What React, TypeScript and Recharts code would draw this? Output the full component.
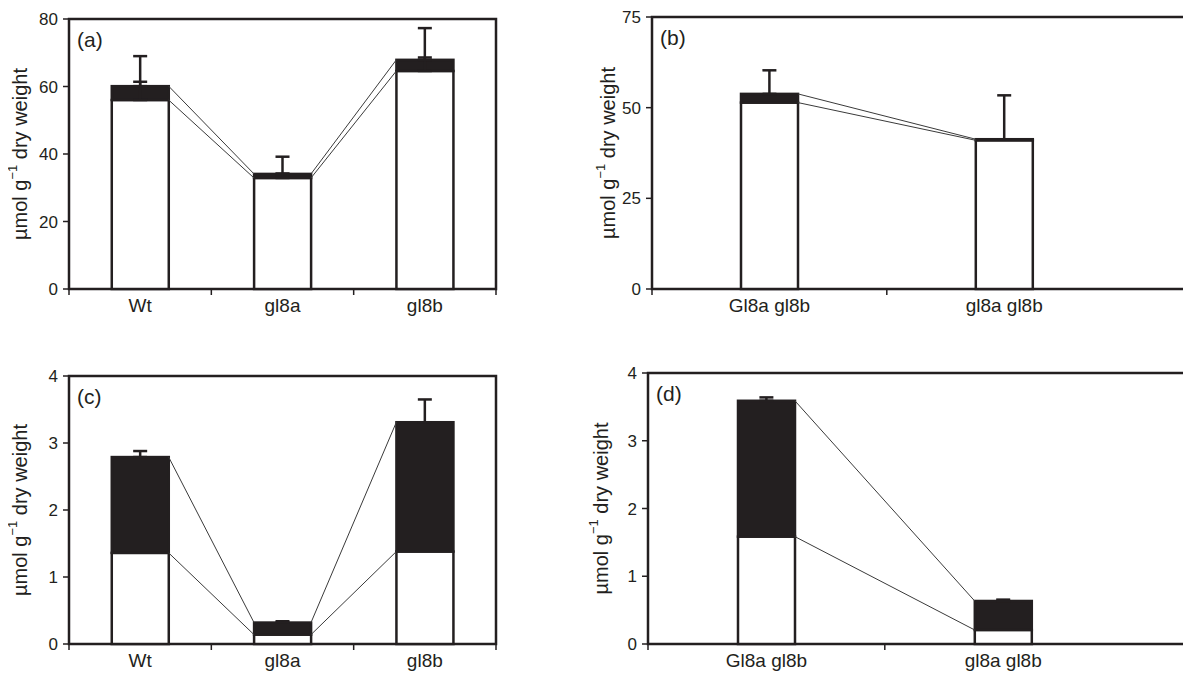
import React from 'react';
import { ComposedChart, Bar, Line, XAxis, YAxis, ErrorBar, ReferenceArea } from 'recharts';

const INK = '#231f20';
const FONT = '"Liberation Sans", Arial, Helvetica, sans-serif';

// ---------- data ----------
// Panel (a)
const catsA = ['Wt', 'gl8a', 'gl8b'];
const whiteA = [56, 32.9, 64.6];
const totalA = [60.1, 34.1, 67.9];
const errTopA = [69, 39.2, 77.3];
const whiteErrTopA = [61.4, 34.2, 68.6];
const yTicksA = [0, 20, 40, 60, 80];

// Panel (b)
const catsB = ['Gl8a gl8b', 'gl8a gl8b'];
const whiteB = [51.4, 41.0];
const totalB = [53.8, 41.3];
const errTopB = [60.3, 53.4];
const yTicksB = [0, 25, 50, 75];

// Panel (c)
const catsC = ['Wt', 'gl8a', 'gl8b'];
const whiteC = [1.36, 0.14, 1.38];
const totalC = [2.79, 0.32, 3.31];
const errTopC = [2.88, 0.34, 3.65];
const yTicksC = [0, 1, 2, 3, 4];

// Panel (d)
const catsD = ['Gl8a gl8b', 'gl8a gl8b'];
const whiteD = [1.585, 0.207];
const totalD = [3.59, 0.635];
const errTopD = [3.64, 0.655];
const yTicksD = [0, 1, 2, 3, 4];

const BAR_PX = 57;

type Layout = {
  left: number; top: number; width: number; height: number;
  margin: { top: number; right: number; bottom: number; left: number };
  yAxisWidth: number; xMax: number; bounds: number;
};

const YLabel = (props: any) => {
  const vb = props.viewBox || {};
  const cx = vb.x + 5;
  const cy = vb.y + vb.height / 2;
  return (
    <text x={cx} y={cy} transform={`rotate(-90 ${cx} ${cy})`} textAnchor="middle"
      dominantBaseline="central" fontSize={20} fill={INK} fontFamily={FONT}>
      µmol g<tspan dy={-8} fontSize={13}>−1</tspan><tspan dy={8}> dry weight</tspan>
    </text>
  );
};

const makeBarShape = (fill: string) => (sp: any) => {
  const cx = sp.x + sp.width / 2;
  if (!sp.height) return <g />;
  return (
    <rect x={cx - BAR_PX / 2} y={sp.y} width={BAR_PX} height={sp.height}
      fill={fill} stroke={INK} strokeWidth={2.5} />
  );
};
const whiteShape = makeBarShape('#ffffff');
const blackShape = makeBarShape(INK);

function Panel(p: {
  letter: string; cats: string[]; white: number[]; total: number[]; errTop: number[];
  whiteErrTop?: number[]; yTicks: number[]; layout: Layout;
}) {
  const { letter, cats, white, total, errTop, whiteErrTop, yTicks, layout } = p;
  const m = layout.margin;
  const plotW = layout.width - m.left - m.right - layout.yAxisWidth;
  const bandPx = plotW / layout.xMax;
  const half = BAR_PX / 2 / bandPx;
  const yMax = yTicks[yTicks.length - 1];
  const data = cats.map((c, i) => ({ x: i + 0.5, name: c, white: white[i], black: total[i] - white[i] }));
  const totErr = cats.map((c, i) => ({ x: i + 0.5, y: total[i], e: [0, errTop[i] - total[i]] }));
  const whErr = whiteErrTop
    ? cats.map((c, i) => ({ x: i + 0.5, y: white[i], e: [0, whiteErrTop[i] - white[i]] }))
    : null;
  const segs: { x: number; y: number }[][] = [];
  for (let i = 0; i < cats.length - 1; i++) {
    segs.push([{ x: i + 0.5 + half, y: total[i] }, { x: i + 1.5 - half, y: total[i + 1] }]);
    segs.push([{ x: i + 0.5 + half, y: white[i] }, { x: i + 1.5 - half, y: white[i + 1] }]);
  }
  const xTicks: number[] = [];
  for (let k = 0; k <= layout.bounds; k++) xTicks.push(k);
  cats.forEach((c, i) => xTicks.push(i + 0.5));
  xTicks.sort((a, b) => a - b);

  const XTick = (tp: any) => {
    const { x, y, payload } = tp;
    const v = payload.value;
    if (Number.isInteger(v)) {
      return <line x1={x} x2={x} y1={y} y2={y + 6} stroke={INK} strokeWidth={1.5} />;
    }
    return (
      <text x={x} y={y + 23} textAnchor="middle" fontSize={19} fill={INK} fontFamily={FONT}>
        {cats[Math.floor(v)]}
      </text>
    );
  };

  const LetterLabel = (lp: any) => {
    const vb = lp.viewBox || {};
    return (
      <text x={vb.x + 8} y={vb.y + 28} fontSize={21} fill={INK} fontFamily={FONT}>({letter})</text>
    );
  };

  return (
    <div style={{ position: 'absolute', left: layout.left, top: layout.top }}>
      <ComposedChart width={layout.width} height={layout.height} data={data} margin={m}>
        <XAxis dataKey="x" type="number" domain={[0, layout.xMax]} ticks={xTicks} interval={0}
          allowDataOverflow axisLine={false} tickLine={false} tickSize={0} tickMargin={0}
          height={40} tick={XTick} />
        <YAxis type="number" domain={[0, yMax]} ticks={yTicks} interval={0} width={layout.yAxisWidth}
          axisLine={false} tickSize={6} tickMargin={5} tickLine={{ stroke: INK, strokeWidth: 1.5 }}
          tick={{ fontSize: 17, fill: INK, fontFamily: FONT }} label={<YLabel />} />
        <ReferenceArea x1={0} x2={layout.xMax} y1={0} y2={yMax} fill="none" stroke={INK}
          strokeWidth={2.5} ifOverflow="visible" label={<LetterLabel />} />
        <Bar dataKey="white" stackId="s" fill="#ffffff" shape={whiteShape}
          isAnimationActive={false} />
        {whErr && (
          <Line data={whErr} dataKey="y" stroke="none" dot={false} isAnimationActive={false}>
            <ErrorBar dataKey="e" direction="y" width={7} stroke={INK} strokeWidth={2.5} />
          </Line>
        )}
        <Bar dataKey="black" stackId="s" fill={INK} shape={blackShape}
          isAnimationActive={false} />
        <Line data={totErr} dataKey="y" stroke="none" dot={false} isAnimationActive={false}>
          <ErrorBar dataKey="e" direction="y" width={7} stroke={INK} strokeWidth={2.5} />
        </Line>
        {segs.map((s, i) => (
          <Line key={i} data={s} dataKey="y" type="linear" stroke="#3a3a3a" strokeWidth={1}
            dot={false} isAnimationActive={false} />
        ))}
      </ComposedChart>
    </div>
  );
}

const layoutA: Layout = { left: 0, top: 0, width: 520, height: 340,
  margin: { top: 19, right: 24, bottom: 11, left: 15 }, yAxisWidth: 54, xMax: 3, bounds: 3 };
const layoutB: Layout = { left: 580, top: 0, width: 670, height: 340,
  margin: { top: 17, right: 11, bottom: 11, left: 23 }, yAxisWidth: 49, xMax: 2.5, bounds: 1 };
const layoutC: Layout = { left: 0, top: 340, width: 520, height: 347,
  margin: { top: 36, right: 24, bottom: 3, left: 15 }, yAxisWidth: 54, xMax: 3, bounds: 3 };
const layoutD: Layout = { left: 580, top: 340, width: 670, height: 347,
  margin: { top: 33, right: 10, bottom: 3, left: 16 }, yAxisWidth: 52, xMax: 2.5, bounds: 1 };

export default function App() {
  return (
    <div style={{ position: 'relative', width: 1191, height: 687, margin: -8, overflow: 'hidden', background: '#fff' }}>
      <Panel letter="a" cats={catsA} white={whiteA} total={totalA} errTop={errTopA}
        whiteErrTop={whiteErrTopA} yTicks={yTicksA} layout={layoutA} />
      <Panel letter="b" cats={catsB} white={whiteB} total={totalB} errTop={errTopB}
        yTicks={yTicksB} layout={layoutB} />
      <Panel letter="c" cats={catsC} white={whiteC} total={totalC} errTop={errTopC}
        yTicks={yTicksC} layout={layoutC} />
      <Panel letter="d" cats={catsD} white={whiteD} total={totalD} errTop={errTopD}
        yTicks={yTicksD} layout={layoutD} />
    </div>
  );
}
